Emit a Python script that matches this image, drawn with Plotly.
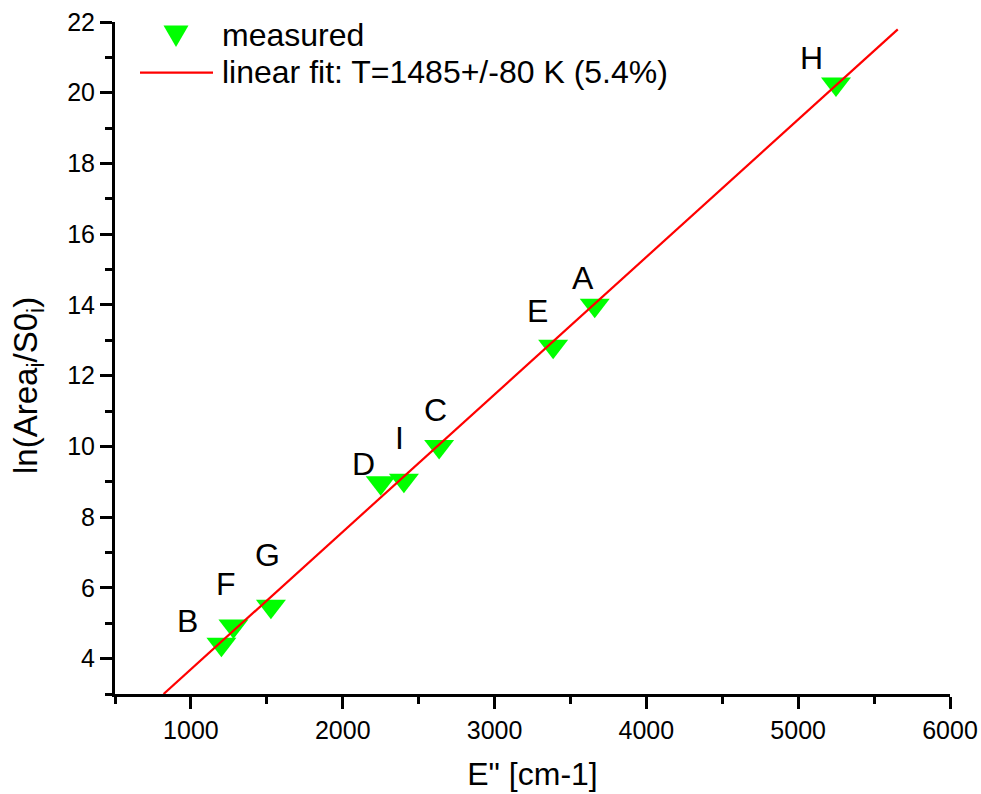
import plotly.graph_objects as go

# ---- data ----
labels = ["B", "F", "G", "D", "I", "C", "E", "A", "H"]
energy = [1201, 1280, 1527, 2250, 2403, 2635, 3386, 3660, 5249]
ln_ratio = [4.41, 4.92, 5.48, 8.97, 9.04, 10.00, 12.83, 13.99, 20.25]

fit_x = [820, 5656]
fit_y = [3.0, 21.79]

extra_x = [6033, 6033, 6033, 6033]
extra_y = [17.33, 15.37, 11.79, 7.86]

series_names = ["measured", "linear fit: T=1485+/-80 K (5.4%)"]

# label offsets (px) relative to each point
label_dx = [-34, -7, -3, -17, -4, -4, -16, -12, -24]
label_dy = [23, 42, 51, 19, 42, 36, 35, 27, 26]

FONT = "Liberation Sans, Arial, sans-serif"

# plot area in pixels
W, H = 981, 794
L, R, T, B = 115, 31, 22, 100
PW, PH = W - L - R, H - T - B


def px(xp):
    return (xp - L) / PW


def py(yp):
    return (H - B - yp) / PH


fig = go.Figure()
fig.add_trace(go.Scatter(
    x=energy, y=ln_ratio, mode="markers", name=series_names[0], showlegend=False,
    marker=dict(symbol="triangle-down", size=26, color="#00FF00", line=dict(width=0)),
))
fig.add_trace(go.Scatter(
    x=fit_x, y=fit_y, mode="lines", name=series_names[1], showlegend=False,
    line=dict(color="#FF0000", width=2.2),
))
fig.add_trace(go.Scatter(
    x=extra_x, y=extra_y, mode="markers", showlegend=False, cliponaxis=False,
    marker=dict(symbol="square", size=17, color="#3333CC", line=dict(width=0)),
))

for lab, xv, yv, dx, dy in zip(labels, energy, ln_ratio, label_dx, label_dy):
    fig.add_annotation(x=xv, y=yv, text=lab, showarrow=False, xshift=dx, yshift=dy,
                       xanchor="center", yanchor="middle",
                       font=dict(family=FONT, size=32, color="black"))

# y-axis title
fig.add_annotation(xref="paper", yref="paper", x=px(28), y=py(386),
                   xanchor="center", yanchor="middle",
                   text="ln(Area<sub>i</sub>/S0<sub>i</sub>)", textangle=-90, showarrow=False,
                   font=dict(family=FONT, size=33, color="black"))

# manual legend
fig.add_shape(type="path", xref="paper", yref="paper",
              path=f"M {px(163.5)} {py(25.5)} L {px(188.5)} {py(25.5)} L {px(176)} {py(47)} Z",
              fillcolor="#00FF00", line=dict(width=0))
fig.add_shape(type="line", xref="paper", yref="paper",
              x0=px(140), x1=px(213), y0=py(72.7), y1=py(72.7),
              line=dict(color="#FF0000", width=2.2))
for name, yc in zip(series_names, [35, 72]):
    fig.add_annotation(xref="paper", yref="paper", x=px(220), y=py(yc),
                       xanchor="left", yanchor="middle", text=name, showarrow=False,
                       font=dict(family=FONT, size=32, color="black"))

axis_common = dict(
    showline=True, linecolor="black", linewidth=3, mirror=False,
    ticks="outside", ticklen=12, tickwidth=3, tickcolor="black",
    showgrid=False, zeroline=False, automargin=False,
    tickfont=dict(family=FONT, size=25, color="black"),
)

fig.update_xaxes(range=[500, 6000], dtick=1000, tick0=0,
                 minor=dict(dtick=500, tick0=0, ticks="outside", ticklen=7, tickwidth=3, tickcolor="black"),
                 title=dict(text='E" [cm-1]', font=dict(family=FONT, size=32, color="black"), standoff=20),
                 **axis_common)
fig.update_yaxes(range=[3, 22], dtick=2, tick0=0,
                 minor=dict(dtick=1, tick0=0, ticks="outside", ticklen=7, tickwidth=3, tickcolor="black"),
                 **axis_common)

fig.update_layout(
    width=W, height=H,
    margin=dict(l=L, r=R, t=T, b=B),
    plot_bgcolor="white", paper_bgcolor="white",
    font=dict(family=FONT, color="black"),
    showlegend=False,
)

fig.write_html("out.html")
